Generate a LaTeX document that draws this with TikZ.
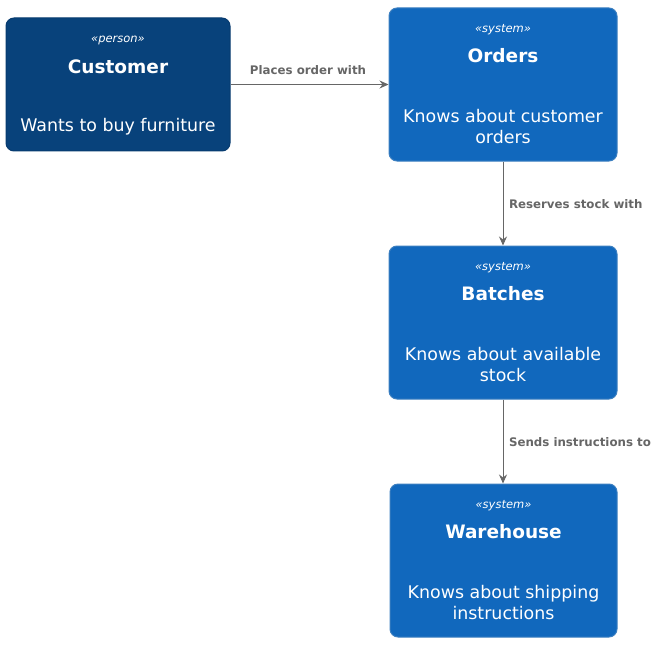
\documentclass[tikz,border=0pt]{standalone}
\usepackage{fontspec}
\setmainfont{DejaVu Sans}
\usetikzlibrary{arrows.meta}

\definecolor{personblue}{HTML}{08427B}
\definecolor{personline}{HTML}{073B6F}
\definecolor{systemblue}{HTML}{1168BD}
\definecolor{systemline}{HTML}{3C7FC0}
\definecolor{relgray}{HTML}{666666}

\tikzset{
    personbox/.style={draw=personline, fill=personblue, rounded corners=8pt, line width=1pt, inner sep=0pt},
    systembox/.style={draw=systemline, fill=systemblue, rounded corners=8pt, line width=1pt, inner sep=0pt},
    stereo/.style={text=white, font=\fontsize{11.5}{14}\selectfont\itshape},
    title/.style={text=white, font=\fontsize{18.5}{22}\selectfont\bfseries},
    descr/.style={text=white, align=center, font=\fontsize{17.4}{21}\selectfont},
    rel/.style={draw=relgray, line width=0.9pt, -{Stealth[length=9pt, width=8pt, inset=3pt]}},
    rellabel/.style={text=relgray, font=\fontsize{11.8}{14}\selectfont\bfseries}
}

\begin{document}
\begin{tikzpicture}[x=1pt, y=-1pt]
    \useasboundingbox (0,0) rectangle (660,647);

    % Draw the boxes
    \node[personbox, minimum width=224pt, minimum height=133pt] (customer) at (118,84.5) {};
    \node[systembox, minimum width=228pt, minimum height=153pt] (orders) at (503,84.5) {};
    \node[systembox, minimum width=228pt, minimum height=153pt] (batches) at (503,322.5) {};
    \node[systembox, minimum width=227pt, minimum height=153pt] (warehouse) at (503.5,560.5) {};

    % Add box texts
    \node[stereo] (customer-st) at (118,40) {«person»};
    \node[title] (customer-ti) at (118,67) {Customer};
    \node[descr] (customer-de) at (118,127) {Wants to buy furniture};

    \node[stereo] (orders-st) at (503,30) {«system»};
    \node[title] (orders-ti) at (503,56) {Orders};
    \node[descr] (orders-de) at (503,126.5) {Knows about customer\\orders};

    \node[stereo] (batches-st) at (503,268) {«system»};
    \node[title] (batches-ti) at (503,294) {Batches};
    \node[descr] (batches-de) at (503,364.5) {Knows about available\\stock};

    \node[stereo] (warehouse-st) at (503.5,506) {«system»};
    \node[title] (warehouse-ti) at (503.5,532) {Warehouse};
    \node[descr] (warehouse-de) at (503.5,602.5) {Knows about shipping\\instructions};

    % Draw relations
    \draw[rel] (customer.east) -- (orders.west);
    \draw[rel] (orders.south) -- (batches.north);
    \draw[rel] (batches.south) -- (warehouse.north -| batches.south);

    % Add relation labels
    \node[rellabel] (places) at (308,70) {Places order with};
    \node[rellabel, anchor=west] (reserves) at (505.5,204) {Reserves stock with};
    \node[rellabel, anchor=west] (sends) at (505.5,442) {Sends instructions to};
\end{tikzpicture}
\end{document}
